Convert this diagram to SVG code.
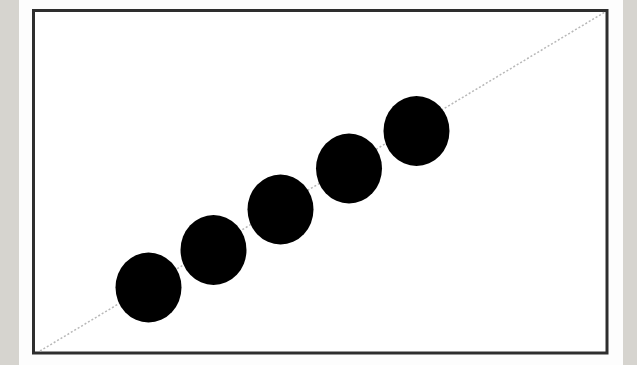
<svg xmlns="http://www.w3.org/2000/svg" width="637" height="365" viewBox="0 0 637 365">
  <style>
    .dot { fill: #000; }
    .frame { fill: #fff; stroke: #2e2e2e; stroke-width: 3; }
    .trend { stroke: #b8b8b8; stroke-width: 1.5; stroke-dasharray: 2 2; fill: none; }
  </style>
  <rect x="0" y="0" width="637" height="365" fill="#d6d4cf"/>
  <rect x="19" y="0" width="604" height="365" fill="#fdfdfd"/>
  <rect class="frame" x="33.5" y="10.5" width="573.5" height="342.5"/>
  <g id="connectors">
    <line class="trend" x1="40" y1="351" x2="605" y2="12"/>
  </g>
  <g id="dot1"><ellipse class="dot" cx="148.5" cy="287.5" rx="33" ry="35"/></g>
  <g id="dot2"><ellipse class="dot" cx="213.5" cy="250" rx="33" ry="35"/></g>
  <g id="dot3"><ellipse class="dot" cx="280.5" cy="209.5" rx="33" ry="35"/></g>
  <g id="dot4"><ellipse class="dot" cx="349" cy="168.5" rx="33" ry="35"/></g>
  <g id="dot5"><ellipse class="dot" cx="416.5" cy="131" rx="33" ry="35"/></g>
</svg>
